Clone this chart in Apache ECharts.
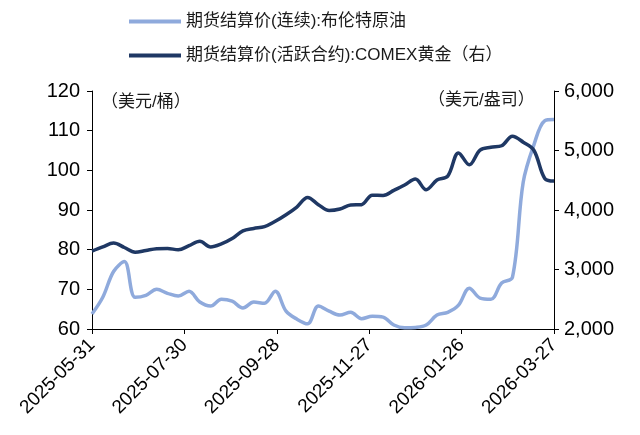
<!DOCTYPE html>
<html>
<head>
<meta charset="utf-8">
<script src="https://cdn.jsdelivr.net/npm/echarts@6/dist/echarts.min.js"></script>
<style>
  html, body { margin: 0; padding: 0; background: #fff; }
  #chart { width: 640px; height: 435px; }
</style>
</head>
<body>
<div id="chart"></div>
<script>
var dates = [
  '2025-05-31', '2025-06-07', '2025-06-14', '2025-06-21', '2025-06-28', '2025-07-05',
  '2025-07-12', '2025-07-19', '2025-07-26', '2025-08-02', '2025-08-09', '2025-08-16',
  '2025-08-23', '2025-08-30', '2025-09-06', '2025-09-13', '2025-09-20', '2025-09-27',
  '2025-10-04', '2025-10-11', '2025-10-18', '2025-10-25', '2025-11-01', '2025-11-08',
  '2025-11-15', '2025-11-22', '2025-11-29', '2025-12-06', '2025-12-13', '2025-12-20',
  '2025-12-27', '2026-01-03', '2026-01-10', '2026-01-17', '2026-01-24', '2026-01-31',
  '2026-02-07', '2026-02-14', '2026-02-21', '2026-02-28', '2026-03-07', '2026-03-14',
  '2026-03-21', '2026-03-27'
];
// 布伦特原油 (美元/桶)
var brent = [
  63.8, 68.0, 74.5, 77.0, 68.0, 68.5,
  70.0, 69.0, 68.3, 69.5, 66.8, 65.8,
  67.5, 67.0, 65.3, 66.8, 66.5, 69.5,
  64.5, 62.5, 61.3, 65.8, 64.5, 63.5,
  64.2, 62.6, 63.2, 63.0, 61.0, 60.3,
  60.4, 61.0, 63.5, 64.2, 66.0, 70.3,
  67.8, 67.5, 71.6, 73.0, 97.0, 106.5,
  112.5, 112.8
];
// COMEX黄金 (美元/盎司)
var gold = [
  3310, 3380, 3445, 3370, 3290, 3320,
  3350, 3355, 3330, 3400, 3475, 3380,
  3430, 3520, 3650, 3690, 3720, 3810,
  3920, 4050, 4210, 4090, 3990, 4016,
  4084, 4090, 4250, 4245, 4330, 4420,
  4520, 4340, 4504, 4570, 4960, 4760,
  5008, 5055, 5080, 5240, 5140, 5000,
  4530, 4487
];
var xTickDays = [0, 60, 120, 180, 240, 300];

var baseMs = Date.UTC(2025, 4, 31);
var dayMs = 86400000;
function toDay(s) {
  var p = s.split('-');
  return Math.round((Date.UTC(+p[0], +p[1] - 1, +p[2]) - baseMs) / dayMs);
}
function fmtDay(d) {
  var t = new Date(baseMs + d * dayMs);
  var m = t.getUTCMonth() + 1, dd = t.getUTCDate();
  return t.getUTCFullYear() + '-' + (m < 10 ? '0' : '') + m + '-' + (dd < 10 ? '0' : '') + dd;
}
function pairs(vals) {
  return dates.map(function (s, i) { return [toDay(s), vals[i]]; });
}

var FONT = '"Liberation Sans", Arial, "Noto Sans CJK SC", sans-serif';
var myChart = echarts.init(document.getElementById('chart'));
var option = {
  animation: false,
  textStyle: { fontFamily: FONT },
  legend: {
    orient: 'vertical',
    left: 124,
    top: 8,
    itemWidth: 52,
    itemHeight: 4,
    itemGap: 17,
    icon: 'rect',
    textStyle: { fontSize: 17, color: '#1a1a1a', fontFamily: FONT },
    data: ['期货结算价(连续):布伦特原油', '期货结算价(活跃合约):COMEX黄金（右）']
  },
  grid: { left: 92, right: 86, top: 91, bottom: 106, containLabel: false },
  xAxis: {
    type: 'value',
    min: xTickDays[0],
    max: xTickDays[xTickDays.length - 1],
    interval: 60,
    axisLine: { lineStyle: { color: '#000', width: 1 } },
    axisTick: { show: true, length: 5, lineStyle: { color: '#000' } },
    splitLine: { show: false },
    axisLabel: {
      rotate: 45,
      fontSize: 19,
      color: '#000',
      margin: 13,
      formatter: function (v) { return fmtDay(v); }
    }
  },
  yAxis: [
    {
      type: 'value',
      min: 60, max: 120, interval: 10,
      axisLine: { show: true, lineStyle: { color: '#000' } },
      axisTick: { show: true, length: 5, lineStyle: { color: '#000' } },
      splitLine: { show: false },
      axisLabel: { fontSize: 20, color: '#000', margin: 12 }
    },
    {
      type: 'value',
      min: 2000, max: 6000, interval: 1000,
      position: 'right',
      axisLine: { show: true, lineStyle: { color: '#000' } },
      axisTick: { show: true, length: 5, lineStyle: { color: '#000' } },
      splitLine: { show: false },
      axisLabel: {
        fontSize: 20, color: '#000', margin: 10,
        formatter: function (v) { return echarts.format.addCommas(v); }
      }
    }
  ],
  graphic: [
    { type: 'text', left: 101, top: 94, style: { text: '（美元/桶）', fontSize: 17, fill: '#1a1a1a', fontFamily: FONT } },
    { type: 'text', left: 428, top: 92, style: { text: '（美元/盎司）', fontSize: 17, fill: '#1a1a1a', fontFamily: FONT } }
  ],
  series: [
    {
      name: '期货结算价(连续):布伦特原油',
      type: 'line',
      yAxisIndex: 0,
      data: pairs(brent),
      smooth: 0.35,
      showSymbol: false,
      lineStyle: { width: 3.5, color: '#8FAADC' },
      itemStyle: { color: '#8FAADC' }
    },
    {
      name: '期货结算价(活跃合约):COMEX黄金（右）',
      type: 'line',
      yAxisIndex: 1,
      data: pairs(gold),
      smooth: 0.35,
      showSymbol: false,
      lineStyle: { width: 3.5, color: '#1F3864' },
      itemStyle: { color: '#1F3864' }
    }
  ]
};
myChart.setOption(option);
</script>
</body>
</html>
